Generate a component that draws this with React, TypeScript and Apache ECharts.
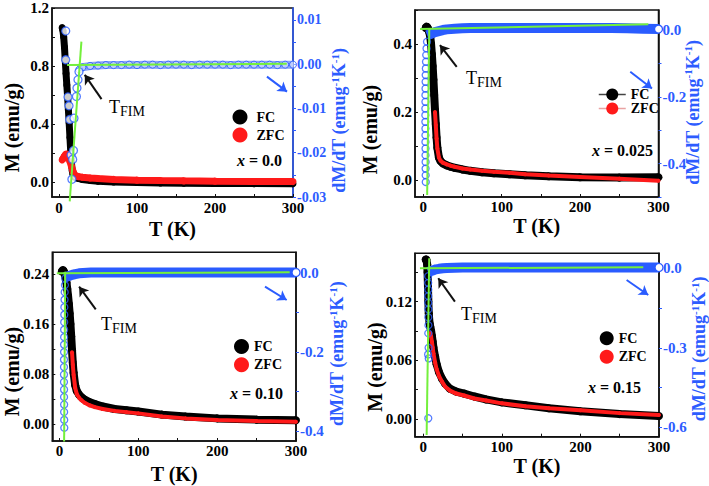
import React, { useEffect, useRef } from "react";
import * as echarts from "echarts";

const FONT = '"Liberation Serif", "Times New Roman", Times, serif';
const RED = "#ff1a1a";
const BLUE_TXT = "#2d5cff";
const BLUE_MARK = "#2a5cff";
const GREEN = "#74f03c";

// ---------- common ticks ----------
const X_LABELS = [0, 100, 200, 300];
const X_TICKS = [0, 50, 100, 150, 200, 250, 300];

// ---------- panel 1 : x = 0.0 ----------
const T1_FC = [4, 5, 6, 7, 8, 9, 10, 11, 12, 13, 14, 15, 16, 17, 18, 19, 20, 22, 25, 30, 40, 50, 70, 100, 130, 160, 200, 250, 300];
const M1_FC = [1.065, 1.045, 1.0, 0.93, 0.84, 0.75, 0.67, 0.59, 0.5, 0.41, 0.31, 0.21, 0.13, 0.08, 0.055, 0.045, 0.038, 0.032, 0.028, 0.02, 0.013, 0.009, 0.004, 0.0, -0.003, -0.005, -0.007, -0.008, -0.009];
const T1_ZFC = [4, 5, 6, 7, 8, 9, 10, 12, 14, 16, 18, 20, 22, 25, 30, 40, 50, 70, 100, 130, 160, 200, 250, 300];
const M1_ZFC = [0.155, 0.163, 0.172, 0.181, 0.189, 0.195, 0.193, 0.175, 0.145, 0.11, 0.075, 0.052, 0.045, 0.04, 0.036, 0.031, 0.027, 0.021, 0.016, 0.013, 0.011, 0.009, 0.007, 0.006];
const T1_DM = [8.6, 8.6, 11.5, 12.8, 13.7, 15.5, 16.5, 17.5, 18.5, 19.2, 22.3, 23.0, 24.3, 25.6];
const DM1 = [0.0075, 0.001, -0.0074, -0.0094, -0.0125, -0.0205, -0.026, -0.0215, -0.0195, -0.0122, -0.0073, -0.0054, -0.0035, -0.0017];
const T1_B = [26, 30, 40, 50, 60, 70, 80, 90, 100, 110, 120, 130, 140, 150, 160, 170, 180, 190, 200, 210, 220, 230, 240, 250, 260, 270, 280, 290, 300];
const DM1_B = [-0.0012, -0.0007, -0.0004, -0.0003, -0.0002, -0.0002, -0.0002, -0.0001, -0.0002, -0.0001, -0.0001, -0.0002, -0.0001, -0.0001, -0.0001, -0.0002, -0.0001, -0.0001, -0.0001, -0.0001, -0.0002, -0.0001, -0.0001, -0.0001, -0.0001, -0.0001, -0.0002, -0.0001, -0.0001];
const G1_V_T = [13.7, 28.7];
const G1_V_D = [-0.031, 0.0051];
const G1_H_T = [10.3, 292];
const G1_H_D = [-0.0002, 0.0001];
const A1_BLACK = [[54.5, -0.0079], [33, -0.0024]];
const A1_BLUE = [[266.6, -0.0028], [292.3, -0.0062]];
const L1_LABELS = [0, 0.4, 0.8, 1.2];
const L1_TICKS = [0, 0.2, 0.4, 0.6, 0.8, 1.0, 1.2];
const R1_LABELS = [-0.03, -0.02, -0.01, 0, 0.01];
const R1_TICKS = [-0.03, -0.025, -0.02, -0.015, -0.01, -0.005, 0, 0.005, 0.01];

// ---------- panel 2 : x = 0.025 ----------
const T2_FC = [3, 4, 5, 6, 7, 8, 9, 10, 11, 12, 13, 14, 15, 16, 17, 18, 20, 22, 25, 30, 35, 40, 50, 60, 75, 90, 110, 130, 160, 200, 250, 300];
const M2_FC = [0.447, 0.451, 0.45, 0.446, 0.44, 0.432, 0.42, 0.4, 0.37, 0.335, 0.295, 0.25, 0.205, 0.165, 0.125, 0.095, 0.066, 0.056, 0.049, 0.043, 0.039, 0.036, 0.031, 0.027, 0.023, 0.02, 0.017, 0.014, 0.011, 0.008, 0.007, 0.008];
const T2_ZFC = [15, 16, 17, 18, 20, 22, 25, 30, 35, 40, 50, 60, 75, 90, 110, 130, 160, 200, 250, 300];
const M2_ZFC = [0.2, 0.162, 0.122, 0.093, 0.066, 0.057, 0.051, 0.046, 0.042, 0.039, 0.034, 0.031, 0.027, 0.024, 0.021, 0.017, 0.013, 0.009, 0.004, -0.002];
const T2_DM = [3.2, 3.1, 3.0, 3.0, 2.9, 2.9, 2.8, 2.8, 2.8, 2.7, 2.7, 2.7, 2.8, 2.8, 2.9, 3.0, 3.1, 3.3, 3.5, 3.8, 4.2, 4.8];
const DM2 = [-0.455, -0.435, -0.415, -0.395, -0.375, -0.355, -0.335, -0.315, -0.295, -0.275, -0.255, -0.235, -0.215, -0.195, -0.175, -0.155, -0.135, -0.115, -0.095, -0.075, -0.055, -0.035];
const T2_B = [5, 7, 9, 12, 15, 20, 25, 30, 40, 50, 60, 80, 100, 120, 140, 160, 180, 200, 220, 240, 260, 280, 300];
const DM2_B = [-0.016, -0.014, -0.012, -0.009, -0.006, -0.003, 0.0, 0.002, 0.004, 0.005, 0.006, 0.006, 0.006, 0.006, 0.006, 0.006, 0.006, 0.006, 0.006, 0.006, 0.005, 0.004, 0.003];
const G2_V_T = [5, 7.7];
const G2_V_D = [-0.494, 0.006];
const G2_H_T = [-4, 287];
const G2_H_D = [0.003, 0.017];
const A2_BLACK = [[42.7, -0.11], [21.3, -0.045]];
const A2_BLUE = [[264, -0.125], [291.7, -0.175]];
const L2_LABELS = [0, 0.2, 0.4];
const L2_TICKS = [0, 0.1, 0.2, 0.3, 0.4, 0.5];
const R2_LABELS = [-0.4, -0.2, 0];
const R2_TICKS = [-0.5, -0.4, -0.3, -0.2, -0.1, 0];

// ---------- panel 3 : x = 0.10 ----------
const T3_FC = [3, 4, 5, 6, 7, 8, 9, 10, 11, 12, 13, 14, 15, 16, 17, 18, 20, 22, 25, 28, 32, 38, 45, 55, 70, 85, 100, 130, 160, 200, 250, 300];
const M3_FC = [0.244, 0.246, 0.246, 0.243, 0.239, 0.233, 0.226, 0.216, 0.205, 0.192, 0.177, 0.16, 0.14, 0.118, 0.098, 0.082, 0.062, 0.053, 0.047, 0.043, 0.039, 0.035, 0.032, 0.028, 0.024, 0.022, 0.02, 0.015, 0.012, 0.009, 0.007, 0.006];
const T3_ZFC = [16, 17, 18, 20, 22, 25, 28, 32, 38, 45, 55, 70, 85, 100, 130, 160, 200, 250, 300];
const M3_ZFC = [0.115, 0.095, 0.079, 0.058, 0.048, 0.042, 0.038, 0.034, 0.03, 0.027, 0.024, 0.021, 0.019, 0.017, 0.012, 0.009, 0.0064, 0.0048, 0.0037];
const T3_DM = [6.2, 6.1, 6.0, 6.0, 5.9, 5.9, 5.8, 5.8, 5.8, 5.8, 5.9, 5.9, 6.0, 6.0, 6.1, 6.2, 6.3, 6.5, 6.7, 7.0, 7.4];
const DM3 = [-0.392, -0.372, -0.352, -0.333, -0.314, -0.295, -0.276, -0.257, -0.238, -0.219, -0.2, -0.181, -0.162, -0.143, -0.124, -0.105, -0.086, -0.067, -0.048, -0.03, -0.013];
const T3_B = [6, 8, 10, 13, 16, 20, 25, 30, 40, 50, 60, 80, 100, 120, 140, 160, 180, 200, 220, 240, 260, 280, 300];
const DM3_B = [-0.01, -0.009, -0.008, -0.006, -0.004, -0.002, 0.0, 0.001, 0.002, 0.002, 0.002, 0.002, 0.002, 0.002, 0.002, 0.002, 0.002, 0.002, 0.002, 0.002, 0.002, 0.002, 0.002];
const G3_V_T = [6.0, 7.3];
const G3_V_D = [-0.427, 0.004];
const G3_H_T = [-3.3, 292];
const G3_H_D = [0.0, 0.0025];
const A3_BLACK = [[46.1, -0.0914], [25, -0.034]];
const A3_BLUE = [[260.7, -0.034], [288.2, -0.0678]];
const L3_LABELS = [0, 0.08, 0.16, 0.24];
const L3_TICKS = [0, 0.04, 0.08, 0.12, 0.16, 0.2, 0.24];
const R3_LABELS = [-0.4, -0.2, 0];
const R3_TICKS = [-0.4, -0.3, -0.2, -0.1, 0];

// ---------- panel 4 : x = 0.15 ----------
const T4_FC = [3, 4, 5, 5.5, 6, 6.5, 7, 8, 9, 10, 11, 12, 13, 15, 17, 20, 24, 28, 34, 42, 52, 65, 80, 100, 130, 160, 200, 250, 300];
const M4_FC = [0.163, 0.163, 0.158, 0.15, 0.135, 0.12, 0.108, 0.098, 0.094, 0.09, 0.085, 0.079, 0.073, 0.064, 0.056, 0.048, 0.041, 0.036, 0.031, 0.028, 0.026, 0.023, 0.02, 0.017, 0.014, 0.011, 0.008, 0.005, 0.003];
const T4_ZFC = [9, 10, 11, 12, 13, 15, 17, 20, 24, 28, 34, 42, 52, 65, 80, 100, 130, 160, 200, 250, 300];
const M4_ZFC = [0.088, 0.084, 0.079, 0.073, 0.067, 0.058, 0.051, 0.044, 0.038, 0.033, 0.029, 0.026, 0.024, 0.021, 0.019, 0.016, 0.013, 0.011, 0.009, 0.006, 0.004];
const T4_DM = [6.4, 7.0, 6.2, 6.8, 6.4, 6.6, 6.4, 6.5, 6.4, 6.3, 6.4, 6.3, 6.2];
const DM4 = [-0.566, -0.34, -0.325, -0.3, -0.245, -0.215, -0.185, -0.155, -0.13, -0.105, -0.08, -0.055, -0.03];
const T4_B = [6, 8, 10, 13, 16, 20, 25, 30, 40, 50, 60, 80, 100, 120, 140, 160, 180, 200, 220, 240, 260, 280, 300];
const DM4_B = [-0.014, -0.012, -0.01, -0.007, -0.004, -0.002, 0.0, 0.001, 0.002, 0.003, 0.003, 0.003, 0.003, 0.003, 0.003, 0.003, 0.003, 0.003, 0.003, 0.003, 0.003, 0.003, 0.003];
const G4_V_T = [4.3, 7.6];
const G4_V_D = [-0.629, 0.038];
const G4_H_T = [-4.2, 280];
const G4_H_D = [0.0, 0.004];
const A4_BLACK = [[40.3, -0.126], [19.1, -0.0377]];
const A4_BLUE = [[258.8, -0.0442], [286.3, -0.1008]];
const L4_LABELS = [0, 0.06, 0.12];
const L4_TICKS = [0, 0.03, 0.06, 0.09, 0.12, 0.15];
const R4_LABELS = [-0.6, -0.3, 0];
const R4_TICKS = [-0.6, -0.45, -0.3, -0.15, 0];

const SAMPLE_TEXT = ["x = 0.0", "x = 0.025", "x = 0.10", "x = 0.15"];

const zip = (xs: number[], ys: number[]) => xs.map((x, i) => [x, ys[i]]);

const PANELS = [
  {
    fc: [T1_FC, M1_FC], zfc: [T1_ZFC, M1_ZFC], dm: [T1_DM, DM1], band: [T1_B, DM1_B],
    gv: [G1_V_T, G1_V_D], gh: [G1_H_T, G1_H_D], arrows: [A1_BLACK, A1_BLUE],
    lLabels: L1_LABELS, lTicks: L1_TICKS, rLabels: R1_LABELS, rTicks: R1_TICKS, text: SAMPLE_TEXT[0],
    L: {
      grid: { left: 52, top: 8, width: 241, height: 189 }, xMin: -9, yl: [-0.1, 1.2], yr: [-0.03, 0.0127],
      lDec: 1, rDec: 2, xGap: 22, lGap: 30, rGap: 36, lShift: 25, rShift: 18, xMargin: 3, rFont: 14,
      rLine: BLUE_TXT, fcW: 7, fcS: 7, zfcW: 7, zfcS: 7, colS: 8, colFill: "#ffffff",
      bandColor: "#8aa4f7", bandW: 8, bandAll: true,
      legend: { left: 232.5, top: 109.5, w: 15, h: 15, gap: 3, lines: false, pad: 4 },
      tfim: [109, 107], xt: [237, 160],
    },
  },
  {
    fc: [T2_FC, M2_FC], zfc: [T2_ZFC, M2_ZFC], dm: [T2_DM, DM2], band: [T2_B, DM2_B],
    gv: [G2_V_T, G2_V_D], gh: [G2_H_T, G2_H_D], arrows: [A2_BLACK, A2_BLUE],
    lLabels: L2_LABELS, lTicks: L2_TICKS, rLabels: R2_LABELS, rTicks: R2_TICKS, text: SAMPLE_TEXT[1],
    L: {
      grid: { left: 415, top: 10, width: 243.5, height: 187 }, xMin: -10.5, yl: [-0.05, 0.5], yr: [-0.5, 0.06],
      lDec: 1, rDec: 1, xGap: 19, lGap: 35, rGap: 24, lShift: 26, rShift: 9, xMargin: 2, rFont: 15,
      rLine: "#111", fcW: 8, fcS: 8, zfcW: 4, zfcS: 4, colS: 7, colFill: "rgba(0,0,0,0)",
      bandColor: BLUE_MARK, bandW: 10, bandAll: false,
      legend: { left: 598, top: 87.5, w: 27, h: 15, gap: 0, lines: true, pad: 0 },
      tfim: [466, 78], xt: [592, 150],
    },
  },
  {
    fc: [T3_FC, M3_FC], zfc: [T3_ZFC, M3_ZFC], dm: [T3_DM, DM3], band: [T3_B, DM3_B],
    gv: [G3_V_T, G3_V_D], gh: [G3_H_T, G3_H_D], arrows: [A3_BLACK, A3_BLUE],
    lLabels: L3_LABELS, lTicks: L3_TICKS, rLabels: R3_LABELS, rTicks: R3_TICKS, text: SAMPLE_TEXT[2],
    L: {
      grid: { left: 52.3, top: 252.3, width: 243.7, height: 188.7 }, xMin: -9, yl: [-0.0272, 0.2748], yr: [-0.4256, 0.0533],
      lDec: 2, rDec: 1, xGap: 23, lGap: 30, rGap: 31, lShift: 25, rShift: 7, xMargin: 2, rFont: 15,
      rLine: "#111", fcW: 8, fcS: 8, zfcW: 4, zfcS: 4, colS: 7, colFill: "rgba(0,0,0,0)",
      bandColor: BLUE_MARK, bandW: 10, bandAll: false,
      legend: { left: 234, top: 339, w: 15, h: 15, gap: 3.3, lines: false, pad: 0 },
      tfim: [101, 323.5], xt: [230, 393],
    },
  },
  {
    fc: [T4_FC, M4_FC], zfc: [T4_ZFC, M4_ZFC], dm: [T4_DM, DM4], band: [T4_B, DM4_B],
    gv: [G4_V_T, G4_V_D], gh: [G4_H_T, G4_H_D], arrows: [A4_BLACK, A4_BLUE],
    lLabels: L4_LABELS, lTicks: L4_TICKS, rLabels: R4_LABELS, rTicks: R4_TICKS, text: SAMPLE_TEXT[3],
    L: {
      grid: { left: 415, top: 253.3, width: 244, height: 183.4 }, xMin: -10.5, yl: [-0.0181, 0.1694], yr: [-0.6355, 0.0566],
      lDec: 2, rDec: 1, xGap: 19, lGap: 30, rGap: 30, lShift: 22, rShift: 4, xMargin: 3, rFont: 15,
      rLine: "#111", fcW: 8, fcS: 8, zfcW: 4, zfcS: 4, colS: 7, colFill: "rgba(0,0,0,0)",
      bandColor: BLUE_MARK, bandW: 10, bandAll: false,
      legend: { left: 599.7, top: 331.3, w: 14, h: 14, gap: 4.4, lines: false, pad: 0 },
      tfim: [461, 314], xt: [588, 387],
    },
  },
];

function buildOption() {
  const grid: any[] = [];
  const xAxis: any[] = [];
  const yAxis: any[] = [];
  const series: any[] = [];
  const legend: any[] = [];
  const graphic: any[] = [];

  PANELS.forEach((p, i) => {
    const L = p.L;
    grid.push({
      ...L.grid, show: true, borderColor: "#111", borderWidth: 1.5,
      backgroundColor: "transparent", containLabel: false, outerBoundsMode: "none",
    });
    xAxis.push({
      type: "value", gridIndex: i, min: L.xMin, max: 300,
      name: "T (K)", nameLocation: "middle", nameGap: L.xGap, nameMoveOverlap: false,
      nameTextStyle: { fontFamily: FONT, fontWeight: "bold", fontSize: 20, color: "#000" },
      axisLine: { show: true, onZero: false, lineStyle: { color: "#111", width: 1.5 } },
      axisTick: { show: true, inside: true, length: 3, customValues: X_TICKS, lineStyle: { color: "#111" } },
      axisLabel: {
        customValues: X_LABELS, margin: L.xMargin, fontFamily: FONT, fontWeight: "bold",
        fontSize: 15, color: "#000", formatter: (v: number) => String(Math.round(v)),
      },
      splitLine: { show: false },
    });
    yAxis.push({
      type: "value", gridIndex: i, position: "left", min: L.yl[0], max: L.yl[1],
      name: "M (emu/g)", nameLocation: "middle", nameRotate: 90, nameGap: L.lGap, nameMoveOverlap: false,
      nameTextStyle: {
        fontFamily: FONT, fontWeight: "bold", fontSize: 20, color: "#000",
        padding: [0, 2 * L.lShift, 0, 0],
      },
      axisLine: { show: true, onZero: false, lineStyle: { color: "#111", width: 1.5 } },
      axisTick: { show: true, inside: true, length: 3, customValues: p.lTicks, lineStyle: { color: "#111" } },
      axisLabel: {
        customValues: p.lLabels, margin: 3, fontFamily: FONT, fontWeight: "bold",
        fontSize: 15, color: "#000", formatter: (v: number) => v.toFixed(L.lDec),
      },
      splitLine: { show: false },
    });
    yAxis.push({
      type: "value", gridIndex: i, position: "right", min: L.yr[0], max: L.yr[1], alignTicks: false,
      name: "dM/dT (emug{sup|-1}K{sup|-1})", nameLocation: "middle", nameRotate: 90, nameGap: L.rGap,
      nameMoveOverlap: false,
      nameTextStyle: {
        fontFamily: FONT, fontWeight: "bold", fontSize: 18, color: BLUE_TXT,
        padding: [0, 2 * L.rShift, 0, 0],
        rich: {
          sup: { fontFamily: FONT, fontWeight: "bold", fontSize: 11, color: BLUE_TXT, padding: [0, 0, 9, 0] },
        },
      },
      axisLine: { show: true, onZero: false, lineStyle: { color: L.rLine, width: 1.5 } },
      axisTick: { show: true, inside: false, length: 3, customValues: p.rTicks, lineStyle: { color: BLUE_TXT } },
      axisLabel: {
        customValues: p.rLabels, margin: 4, fontFamily: FONT, fontWeight: "bold",
        fontSize: L.rFont, color: BLUE_TXT, formatter: (v: number) => v.toFixed(L.rDec),
      },
      splitLine: { show: false },
    });

    const xa = i;
    const yl = 2 * i;
    const yr = 2 * i + 1;

    series.push({
      type: "line", name: "FC", xAxisIndex: xa, yAxisIndex: yl, data: zip(p.fc[0], p.fc[1]),
      symbol: "circle", symbolSize: L.fcS, showSymbol: true, showAllSymbol: true, silent: true,
      itemStyle: { color: "#000" }, lineStyle: { color: "#000", width: L.fcW }, z: 2,
    });
    series.push({
      type: "line", name: "ZFC", xAxisIndex: xa, yAxisIndex: yl, data: zip(p.zfc[0], p.zfc[1]),
      symbol: "circle", symbolSize: L.zfcS, showSymbol: true, showAllSymbol: true, silent: true,
      itemStyle: { color: RED }, lineStyle: { color: RED, width: L.zfcW }, z: 3,
    });
    const bandLast = p.band[0].length - 1;
    series.push({
      type: "line", name: "dM/dT", xAxisIndex: xa, yAxisIndex: yr, data: zip(p.band[0], p.band[1]),
      symbol: "circle", showSymbol: true, showAllSymbol: true, silent: true,
      symbolSize: (_v: any, prm: any) => (L.bandAll ? 7 : prm.dataIndex === bandLast ? 8 : 0),
      itemStyle: {
        color: L.bandAll ? "rgba(255,255,255,0.45)" : "#ffffff",
        borderColor: BLUE_MARK, borderWidth: L.bandAll ? 0.9 : 1.3,
      },
      lineStyle: { color: L.bandColor, width: L.bandW }, z: 4,
    });
    series.push({
      type: "scatter", name: "dM/dT", xAxisIndex: xa, yAxisIndex: yr, data: zip(p.dm[0], p.dm[1]),
      symbol: "circle", symbolSize: L.colS, silent: true,
      itemStyle: { color: L.colFill, borderColor: BLUE_MARK, borderWidth: 1.3 }, z: 4,
    });
    series.push({
      type: "line", name: "tangent", xAxisIndex: xa, yAxisIndex: yr, data: zip(p.gv[0], p.gv[1]),
      symbol: "none", clip: false, silent: true, lineStyle: { color: GREEN, width: 2 }, z: 5,
    });
    series.push({
      type: "line", name: "baseline", xAxisIndex: xa, yAxisIndex: yr, data: zip(p.gh[0], p.gh[1]),
      symbol: "none", clip: false, silent: true, lineStyle: { color: GREEN, width: 2 }, z: 5,
      markLine: {
        silent: true, symbol: ["none", "arrow"], symbolSize: 9, label: { show: false },
        data: [
          [
            { coord: p.arrows[0][0], lineStyle: { color: "#111", width: 2, type: "solid" }, itemStyle: { color: "#111" } },
            { coord: p.arrows[0][1] },
          ],
          [
            { coord: p.arrows[1][0], lineStyle: { color: BLUE_MARK, width: 2, type: "solid" }, itemStyle: { color: BLUE_MARK } },
            { coord: p.arrows[1][1] },
          ],
        ],
      },
    });

    const lg = L.legend;
    legend.push({
      show: true, orient: "vertical", left: lg.left, top: lg.top, padding: 0,
      itemWidth: lg.w, itemHeight: lg.h, itemGap: lg.gap, selectedMode: false,
      textStyle: {
        fontFamily: FONT, fontWeight: "bold", fontSize: 14, color: "#000",
        padding: [0, 0, 0, lg.pad],
      },
      data: lg.lines
        ? [
            { name: "FC", lineStyle: { color: "#444", width: 1.5 } },
            { name: "ZFC", lineStyle: { color: "#e9a3a3", width: 1.5 } },
          ]
        : [
            { name: "FC", icon: "circle" },
            { name: "ZFC", icon: "circle" },
          ],
    });

    graphic.push({
      type: "text", x: L.tfim[0], y: L.tfim[1], silent: true,
      style: {
        text: "{t|T}{s|FIM}", align: "left", verticalAlign: "middle", fill: "#000",
        rich: {
          t: { fontFamily: FONT, fontSize: 18, fill: "#000" },
          s: { fontFamily: FONT, fontSize: 14, fill: "#000", padding: [9, 0, 0, 0] },
        },
      },
    });
    const parts = p.text.split(" = ");
    graphic.push({
      type: "text", x: L.xt[0], y: L.xt[1], silent: true,
      style: {
        text: "{i|" + parts[0] + "}{n| = " + parts[1] + "}", align: "left", verticalAlign: "middle", fill: "#000",
        rich: {
          i: { fontFamily: FONT, fontSize: 16, fontWeight: "bold", fontStyle: "italic", fill: "#000" },
          n: { fontFamily: FONT, fontSize: 16, fontWeight: "bold", fill: "#000" },
        },
      },
    });
  });

  return {
    animation: false,
    backgroundColor: "#ffffff",
    textStyle: { fontFamily: FONT },
    grid, xAxis, yAxis, series, legend, graphic,
  };
}

export default function App() {
  const ref = useRef<HTMLDivElement | null>(null);
  useEffect(() => {
    if (!ref.current) return;
    const chart = echarts.init(ref.current, undefined, { renderer: "svg" });
    chart.setOption(buildOption() as any);
    return () => chart.dispose();
  }, []);
  return (
    <div
      ref={ref}
      style={{ position: "absolute", left: 0, top: 0, width: 709, height: 486, background: "#fff" }}
    />
  );
}
